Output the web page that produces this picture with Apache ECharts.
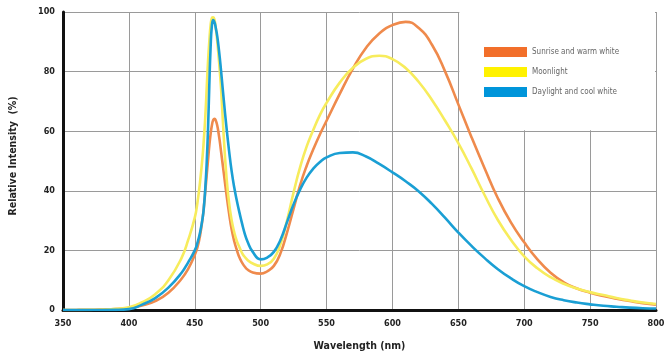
<!DOCTYPE html>
<html>
<head>
<meta charset="utf-8">
<script src="https://cdn.jsdelivr.net/npm/echarts@6/dist/echarts.min.js"></script>
<style>
html,body{margin:0;padding:0;background:#fff;}
#chart{width:670px;height:360px;}
</style>
</head>
<body>
<div id="chart"></div>
<script>
// Wavelength samples (nm)
const wavelengths = [350,360,370,380,390,400,410,420,430,440,445,450,452,454,456,457,458,459,460,461,462,463,464,465,466,467,468,469,470,472,474,476,478,480,482,484,486,488,490,494,500,505,510,515,520,525,530,535,540,545,550,560,570,580,590,600,610,620,630,640,650,660,670,680,690,700,710,720,730,740,750,760,770,780,790,800];

// Relative intensity (%) per series
const sunriseWarm = [0,0.02,0.08,0.2,0.35,0.6,1.5,3,5.8,10.5,13.8,18.5,21,25,31,35,40,45,50,55,59,62,63.8,64.2,63.5,62,59.5,56.5,53,46,39,32.5,27,23,20,17.5,15.8,14.5,13.6,12.6,12.2,13,14.8,19,26,34,42,48.5,54,59,63.5,72.5,81,88,92.8,95.6,96.7,94.6,89,80,69,58,47.5,37.5,29.3,22.7,17,12.5,9.3,7.2,5.8,4.7,3.8,3,2.3,1.8];
const moonlight = [0,0,0.05,0.15,0.4,0.9,2.6,5.3,10,17.5,23.5,31,36,43,52,58,65,74,83,90,95.5,98,98.2,97.3,94.5,90.5,85.5,80,74,58,45,36,30,26,23,21,19,17.8,16.8,15.6,14.8,15.3,17.2,22,30,39.5,48,55,60.5,65.5,69.5,76.3,81.3,84.3,85.3,84.2,81.2,76.5,70.5,63.5,56,47.5,38.5,30.2,23.5,18,14,11,8.8,7.2,6,5,4,3.2,2.5,2];
const daylightCool = [0,0,0,0,0.05,0.3,1.8,4,7.5,12.5,16,20,22.5,26,31,35,41,49,60,75,88,95.5,97.3,96.5,94.5,92,88.5,84.5,80,70.5,61.5,53.5,46.5,41,36.5,32.5,28.8,25.5,23,19.5,17,17.6,19.5,23.5,29.5,35.5,40.5,44.5,47.5,49.7,51.2,52.7,52.9,51.5,49,46.2,43.2,39.8,35.6,30.9,26,21.5,17.4,13.7,10.6,8,6,4.4,3.3,2.5,1.9,1.4,1.1,0.8,0.6,0.5];

const seriesNames = ['Sunrise and warm white','Moonlight','Daylight and cool white'];
const lineColors = ['#ef8a4c','#f7ec5c','#1a9fd4'];
const swatchColors = ['#f26f2a','#fff200','#0095da'];
const xTicks = {min:350, max:800, interval:50};
const yTicks = {min:0, max:100, interval:20};

const font = "'DejaVu Sans Condensed','Liberation Sans Narrow',sans-serif";
const chart = echarts.init(document.getElementById('chart'), null, {renderer:'canvas'});

function pairs(vals){ return wavelengths.map((w,i)=>[w, vals[i]]); }
const allVals = [sunriseWarm, moonlight, daylightCool];

chart.setOption({
  animation:false,
  backgroundColor:'#fff',
  grid:{left:63, right:14, top:12, bottom:50},
  legend:{
    orient:'vertical', left:484, top:47, padding:0,
    itemWidth:43, itemHeight:10, itemGap:10,
    icon:'rect',
    textStyle:{fontFamily:font, fontSize:8, color:'#666'},
    data: seriesNames.map((n,i)=>({name:n, itemStyle:{color:swatchColors[i]}}))
  },
  xAxis:{
    type:'value', min:xTicks.min, max:xTicks.max, interval:xTicks.interval,
    name:'Wavelength (nm)', nameLocation:'middle', nameGap:31,
    nameTextStyle:{fontFamily:font, fontSize:10.5, fontWeight:'bold', color:'#222'},
    axisLine:{show:true, onZero:false, lineStyle:{color:'#111', width:3}},
    axisTick:{show:false},
    axisLabel:{margin:9, fontFamily:font, fontSize:9, fontWeight:'bold', color:'#222'},
    splitLine:{show:true, lineStyle:{color:'#9a9a9a', width:1}}
  },
  yAxis:{
    type:'value', min:yTicks.min, max:yTicks.max, interval:yTicks.interval,
    name:'Relative Intensity  (%)', nameLocation:'middle', nameGap:44,
    nameTextStyle:{fontFamily:font, fontSize:10.5, fontWeight:'bold', color:'#222', padding:[0,0,0,10]},
    axisLine:{show:true, lineStyle:{color:'#111', width:3}},
    axisTick:{show:false},
    axisLabel:{margin:8, fontFamily:font, fontSize:9, fontWeight:'bold', color:'#222'},
    splitLine:{show:true, lineStyle:{color:'#9a9a9a', width:1}}
  },
  series: seriesNames.map((n,i)=>({
    name:n, type:'line', data:pairs(allVals[i]),
    showSymbol:false, smooth:0.5,
    lineStyle:{color:lineColors[i], width:2.6},
    itemStyle:{color:lineColors[i]},
    z:2+i
  }))
});

// white panel behind the legend (covers grid lines, below the curves)
const p1 = chart.convertToPixel({gridIndex:0}, [650, 100]);
const p2 = chart.convertToPixel({gridIndex:0}, [800, 60]);
chart.setOption({
  graphic:[{
    type:'rect', z:1, silent:true,
    shape:{x:p1[0]+1, y:0, width:(p2[0]-1)-(p1[0]+1), height:p2[1]-1},
    style:{fill:'#fff'}
  }]
});
</script>
</body>
</html>
